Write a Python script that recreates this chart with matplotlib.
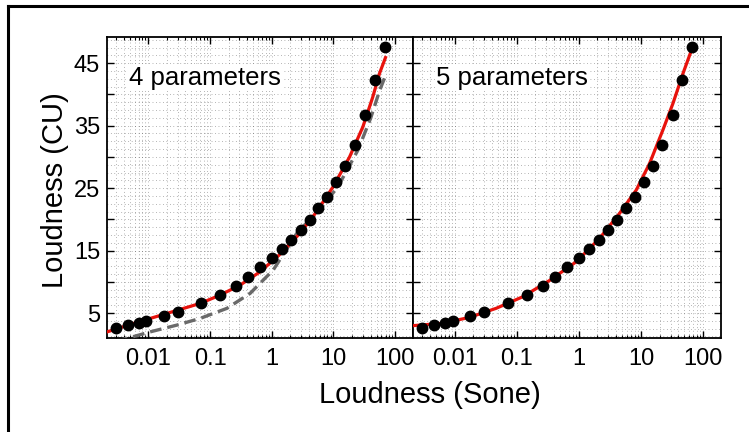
import numpy as np
import matplotlib
matplotlib.use('Agg')
import matplotlib.pyplot as plt
from matplotlib.lines import Line2D
from matplotlib.ticker import FixedLocator, LogLocator, NullFormatter

plt.rcParams['font.family'] = ['Liberation Sans', 'DejaVu Sans']

# measured loudness points (same data in both panels)
sone = [0.00298, 0.00471, 0.0070, 0.0093, 0.0177, 0.0301, 0.0716, 0.145, 0.262,
        0.416, 0.650, 1.0, 1.45, 2.08, 2.94, 4.10, 5.67, 7.91, 11.1, 15.6,
        22.1, 32.8, 46.5, 67.5]
cu = [2.65, 3.08, 3.35, 3.72, 4.52, 5.16, 6.55, 7.88, 9.32, 10.8, 12.3, 13.75,
      15.24, 16.7, 18.3, 19.9, 21.75, 23.6, 26.0, 28.5, 31.9, 36.7, 42.3, 47.6]

# 4-parameter fit (red, left)
fit4_x = [0.00218, 0.00586, 0.0202, 0.0698, 0.1466, 0.308, 0.648, 1.36, 2.86,
          5.32, 9.86, 18.3, 30.0, 43.5, 55.8, 69.8]
fit4_y = [2.0, 3.35, 4.95, 6.55, 7.88, 9.48, 11.6, 14.4, 17.75, 21.2, 25.2,
          30.0, 34.8, 39.6, 43.35, 45.9]

# alternative fit (grey dashed, left)
alt_x = [0.0030, 0.00519, 0.0109, 0.0294, 0.0698, 0.188, 0.447, 1.06, 2.6, 5.9,
         11.8, 25.0, 40.0, 56.0, 71.0]
alt_y = [0.5, 1.1, 2.0, 3.08, 4.15, 5.75, 8.15, 11.9, 17.9, 21.5, 25.2, 31.1,
         36.15, 40.6, 43.2]

# 5-parameter fit (red, right)
fit5_x = [0.0021, 0.0064, 0.0173, 0.0466, 0.125, 0.337, 0.908, 2.16, 4.53, 8.43,
          13.8, 22.6, 32.8, 47.6, 67.5]
fit5_y = [2.97, 3.35, 4.3, 5.75, 7.6, 10.2, 13.2, 16.95, 20.95, 24.7, 28.95,
          34.3, 38.55, 43.35, 47.5]

xticks = [0.01, 0.1, 1, 10, 100]
xticklabels = ['0.01', '0.1', '1', '10', '100']
yticks = [5, 10, 15, 20, 25, 30, 35, 40, 45]
yticklabels = ['5', '', '15', '', '25', '', '35', '', '45']

W, H = 749, 432
fig = plt.figure(figsize=(W / 100, H / 100), dpi=100)
ax1 = fig.add_axes([107 / W, 1 - 338 / H, 306 / W, 301 / H])
ax2 = fig.add_axes([413 / W, 1 - 338 / H, 308 / W, 301 / H])

for ax in (ax1, ax2):
    ax.set_xscale('log')
    ax.set_xlim(0.00214, 195)
    ax.set_ylim(1, 49.2)
    ax.xaxis.set_major_locator(FixedLocator(xticks))
    ax.set_xticklabels(xticklabels)
    ax.xaxis.set_minor_locator(LogLocator(base=10, subs=np.arange(2, 10), numticks=20))
    ax.xaxis.set_minor_formatter(NullFormatter())
    ax.set_yticks(yticks)
    ax.yaxis.set_minor_locator(FixedLocator(np.arange(1.25, 49.5, 1.25)))
    ax.grid(True, which='both', color='#333333', linestyle=(0, (1, 4)), linewidth=0.5, alpha=0.7)
    ax.tick_params(which='major', direction='in', length=5, width=1, top=True, right=True,
                   labelsize=17, pad=7)
    ax.tick_params(which='minor', direction='in', length=2.5, width=0.8, top=True, right=True,
                   left=False)
    ax.tick_params(axis='y', which='minor', length=0)
    for s in ax.spines.values():
        s.set_linewidth(1.3)
    ax.set_axisbelow(True)

ax1.set_yticklabels(yticklabels)
ax1.tick_params(axis='y', pad=5)
ax2.set_yticklabels([])

# left panel
ax1.plot(alt_x, alt_y, color='#6a6a6a', linestyle=(0, (3.5, 1.8)), linewidth=2.4, zorder=3)
ax1.plot(fit4_x, fit4_y, color='#e8120c', linewidth=2.3, zorder=4)
ax1.plot(sone, cu, 'o', color='k', markersize=7.5, zorder=5, clip_on=False)
ax1.text(0.072, 0.865, '4 parameters', transform=ax1.transAxes, fontsize=18.5,
         va='center', ha='left', bbox=dict(facecolor='white', edgecolor='none', pad=1))

# right panel
ax2.plot(fit5_x, fit5_y, color='#e8120c', linewidth=2.3, zorder=4)
ax2.plot(sone, cu, 'o', color='k', markersize=7.5, zorder=5, clip_on=False)
ax2.text(0.075, 0.865, '5 parameters', transform=ax2.transAxes, fontsize=18.5,
         va='center', ha='left', bbox=dict(facecolor='white', edgecolor='none', pad=1))

fig.text(55 / W, 1 - 190 / H, 'Loudness (CU)', rotation=90, fontsize=21,
         ha='center', va='center')
fig.text(430 / W, 1 - 395 / H, 'Loudness (Sone)', fontsize=21, ha='center', va='center')

# outer frame (top and left edges visible)
fig.add_artist(Line2D([8 / W, 1], [1 - 6 / H, 1 - 6 / H], color='k', linewidth=2.2))
fig.add_artist(Line2D([8 / W, 8 / W], [0, 1 - 6 / H], color='k', linewidth=2.2))

fig.savefig('out.png', dpi=100)
